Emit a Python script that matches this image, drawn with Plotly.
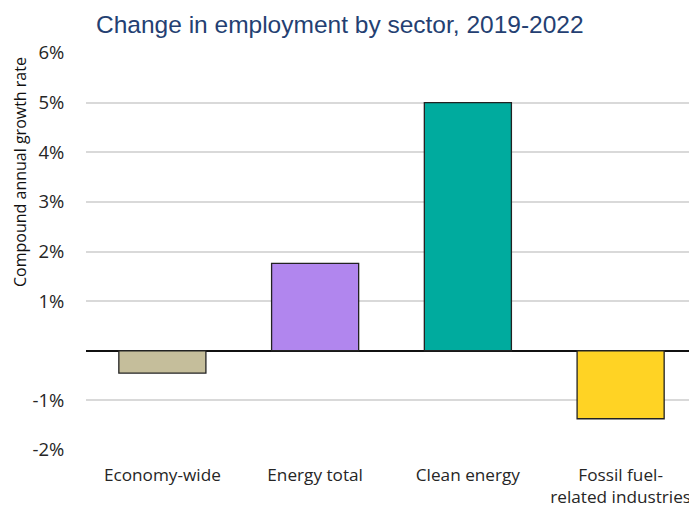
import plotly.graph_objects as go

categories = ["Economy-wide", "Energy total", "Clean energy", "Fossil fuel-<br>related industries"]
values = [-0.45, 1.76, 5.0, -1.37]
colors = ["#C5BE9B", "#B186EE", "#00AB9E", "#FFD324"]
tick_vals = [-2, -1, 1, 2, 3, 4, 5, 6]
tick_text = ["-2%", "-1%", "1%", "2%", "3%", "4%", "5%", "6%"]

W, H = 689, 500
L, R, T, B = 78, 0, 44, 57

fig = go.Figure(go.Bar(
    x=categories, y=values,
    marker=dict(color=colors, line=dict(color="#222222", width=1.3)),
    width=0.57,
))

fig.update_layout(
    width=W, height=H,
    margin=dict(l=L, r=R, t=T, b=B),
    paper_bgcolor="white", plot_bgcolor="white",
    showlegend=False,
    title=dict(text="Change in employment by sector, 2019-2022",
               x=88/W, xanchor="left", y=1-16/H, yanchor="middle",
               font=dict(family="Liberation Sans, Arial", size=24.5, color="#243F72")),
    font=dict(family="Open Sans", color="#262626"),
    annotations=[dict(
        text="Compound annual growth rate", textangle=-90,
        xref="paper", yref="paper",
        x=(12-L)/(W-L-R), y=(H-B-164)/(H-B-T),
        xanchor="center", yanchor="middle", showarrow=False,
        font=dict(family="Open Sans", size=16, color="#111111"),
    )],
)
fig.update_xaxes(
    automargin=False,
    tickfont=dict(family="Open Sans", size=17.2, color="#262626"),
    ticks="outside", ticklen=8, tickcolor="rgba(0,0,0,0)",
    showgrid=False, showline=False,
)
fig.update_yaxes(
    automargin=False,
    range=[-2.02, 6.02],
    tickvals=tick_vals, ticktext=tick_text,
    tickfont=dict(family="Open Sans", size=18.5, color="#262626"),
    ticks="outside", ticklen=17, tickcolor="rgba(0,0,0,0)",
    showgrid=True, gridcolor="#D9D9D9", gridwidth=1.5,
    zeroline=True, zerolinecolor="#111111", zerolinewidth=1.5,
)

fig.write_html("out.html")
